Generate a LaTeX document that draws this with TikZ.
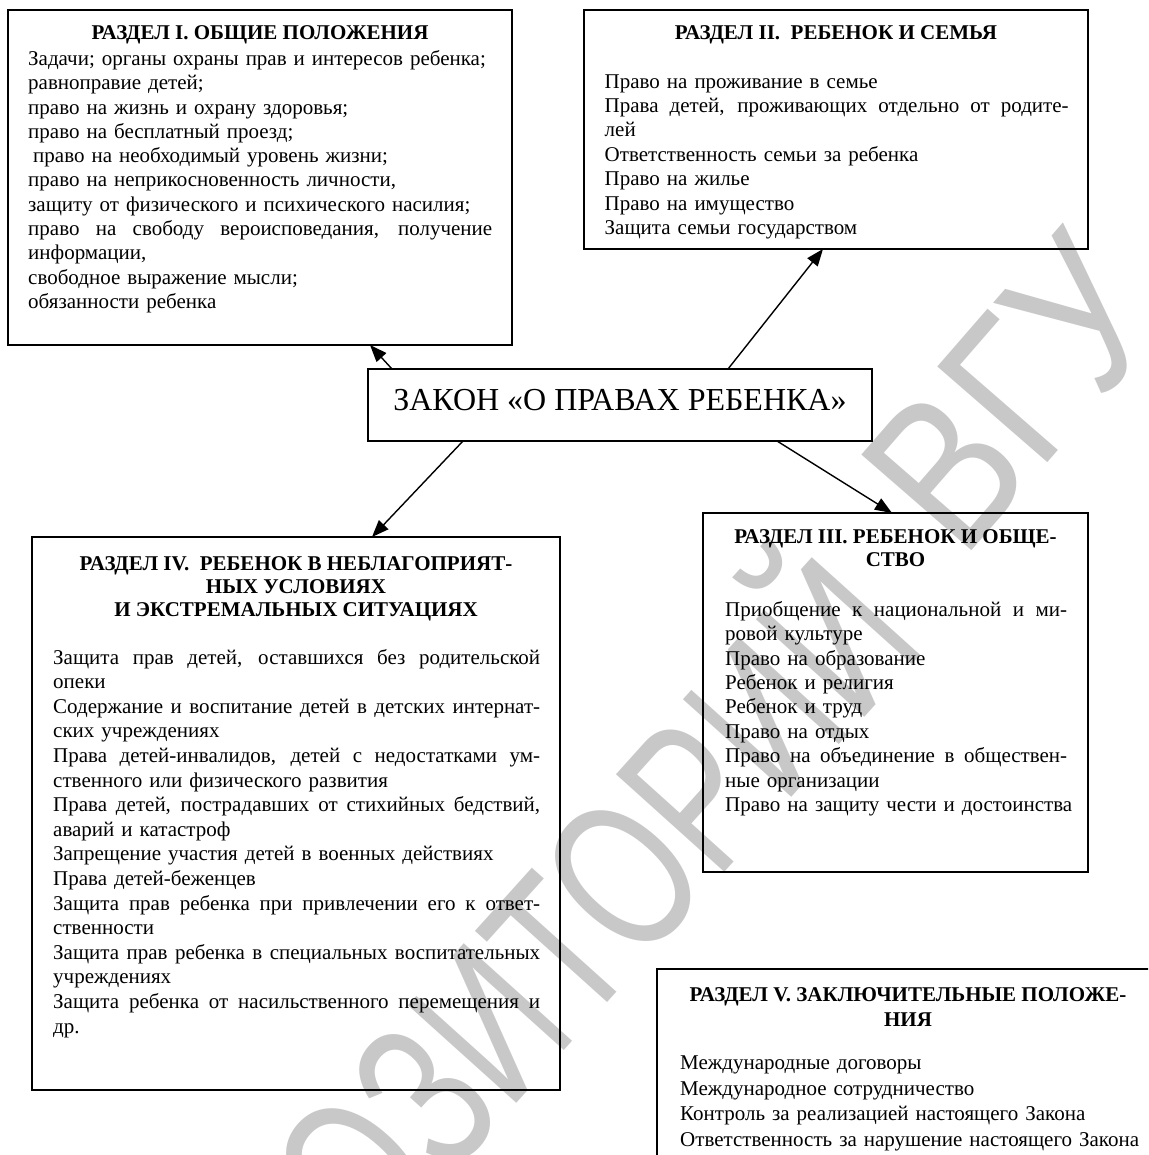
\documentclass[tikz,border=0pt]{standalone}
\usepackage{fontspec}
\setmainfont{Liberation Serif}
\newfontfamily\wmfont{Liberation Sans}
\usetikzlibrary{arrows.meta}
\definecolor{wmgray}{RGB}{200,200,200}
\newcommand{\J}[2]{\leavevmode\hbox to #1{\spaceskip=0.25em plus 1fil\relax #2}}
\begin{document}
\begin{tikzpicture}[x=1pt,y=-1pt,
  box/.style={draw=black, line width=1.8pt, outer sep=0pt, inner sep=0pt},
  ttl/.style={font=\fontsize{21}{#1}\selectfont\bfseries, align=center, inner sep=0pt, anchor=north},
  ttl1/.style={font=\fontsize{21}{24}\selectfont\bfseries, inner sep=0pt, anchor=base},
  lst/.style={font=\fontsize{21}{#1}\selectfont, align=left, inner sep=0pt, anchor=north west, text width=620pt},
  arr/.style={line width=1.4pt, -{Triangle[length=17pt,width=13pt]}},
  wm/.style={text=wmgray, font=\wmfont\fontsize{212}{212}\selectfont, inner sep=0pt}]

\useasboundingbox (0,0) rectangle (1148,1155);
\begin{scope}
  \clip (0,0) rectangle (1148,1155);
  \node[wm, anchor=base east, rotate=48, xscale=0.71] (wm1) at (928.6,646) {РЕПОЗИТОРИЙ};
  \node[wm, anchor=base west, rotate=49, xscale=0.82] (wm2) at (962.4,561.4) {ВГУ};
  \node[box, minimum width=502pt, minimum height=231pt] (b5) at (908,1084.5) {};
\end{scope}

% boxes
\node[box, minimum width=504pt, minimum height=335pt] (b1) at (260,177.5) {};
\node[box, minimum width=504pt, minimum height=239pt] (b2) at (836,129.5) {};
\node[box, minimum width=504pt, minimum height=72pt] (c) at (620,405) {};
\node[box, minimum width=385pt, minimum height=359pt] (b3) at (895.5,692.5) {};
\node[box, minimum width=528pt, minimum height=553pt] (b4) at (296,813.5) {};

% central title
\node[font=\fontsize{32}{38}\selectfont, inner sep=0pt, anchor=base] (ct) at (620,410) {ЗАКОН «О ПРАВАХ РЕБЕНКА»};

% section I
\node[ttl1] (t1) at (260,39.6) {РАЗДЕЛ I. ОБЩИЕ ПОЛОЖЕНИЯ};
\node[lst=24.3] (l1) at (28,48.2) {\strut Задачи; органы охраны прав и интересов ребенка;\\
равноправие детей;\\
право на жизнь и охрану здоровья;\\
право на бесплатный проезд;\\
\hspace*{5pt}право на необходимый уровень жизни;\\
право на неприкосновенность личности,\\
защиту от физического и психического насилия;\\
\J{464pt}{право на свободу вероисповедания, получение}\\
информации,\\
свободное выражение мысли;\\
обязанности ребенка};

% section II
\node[ttl1] (t2) at (836,39.6) {РАЗДЕЛ II.~ РЕБЕНОК И СЕМЬЯ};
\node[lst=24.45] (l2) at (604.5,70.7) {\strut Право на проживание в семье\\
\J{464pt}{Права детей, проживающих отдельно от родите-}\\
лей\\
Ответственность семьи за ребенка\\
Право на жилье\\
Право на имущество\\
Защита семьи государством};

% section III
\node[ttl=23.3] (t3) at (895.5,527) {\strut РАЗДЕЛ III. РЕБЕНОК И ОБЩЕ-\\СТВО};
\node[lst=24.4] (l3) at (725,599.1) {\strut \J{342pt}{Приобщение к национальной и ми-}\\
ровой культуре\\
Право на образование\\
Ребенок и религия\\
Ребенок и труд\\
Право на отдых\\
\J{342pt}{Право на объединение в обществен-}\\
ные организации\\
Право на защиту чести и достоинства};

% section IV
\node[ttl=23.35] (t4) at (296,553.6) {\strut РАЗДЕЛ IV.~ РЕБЕНОК В НЕБЛАГОПРИЯТ-\\НЫХ УСЛОВИЯХ\\И ЭКСТРЕМАЛЬНЫХ СИТУАЦИЯХ};
\node[lst=24.6] (l4) at (53,646.6) {\strut \J{487pt}{Защита прав детей, оставшихся без родительской}\\
опеки\\
\J{487pt}{Содержание и воспитание детей в детских интернат-}\\
ских учреждениях\\
\J{487pt}{Права детей-инвалидов, детей с недостатками ум-}\\
ственного или физического развития\\
\J{487pt}{Права детей, пострадавших от стихийных бедствий,}\\
аварий и катастроф\\
Запрещение участия детей в военных действиях\\
Права детей-беженцев\\
\J{487pt}{Защита прав ребенка при привлечении его к ответ-}\\
ственности\\
\J{487pt}{Защита прав ребенка в специальных воспитательных}\\
учреждениях\\
\J{487pt}{Защита ребенка от насильственного перемещения и}\\
др.};

% section V
\node[ttl=25] (t5) at (908,984.1) {\strut РАЗДЕЛ V. ЗАКЛЮЧИТЕЛЬНЫЕ ПОЛОЖЕ-\\НИЯ};
\node[lst=25.6] (l5) at (680,1051.6) {\strut Международные договоры\\
Международное сотрудничество\\
Контроль за реализацией настоящего Закона\\
Ответственность за нарушение настоящего Закона};

% connectors
\draw[arr] ([xshift=24pt]c.north west) -- ([xshift=362pt]b1.south west);
\draw[arr] ([xshift=360pt]c.north west) -- ([xshift=239pt]b2.south west);
\draw[arr] ([xshift=95pt]c.south west) -- ([xshift=340pt]b4.north west);
\draw[arr] ([xshift=409pt]c.south west) -- ([xshift=189pt]b3.north west);
\end{tikzpicture}
\end{document}
